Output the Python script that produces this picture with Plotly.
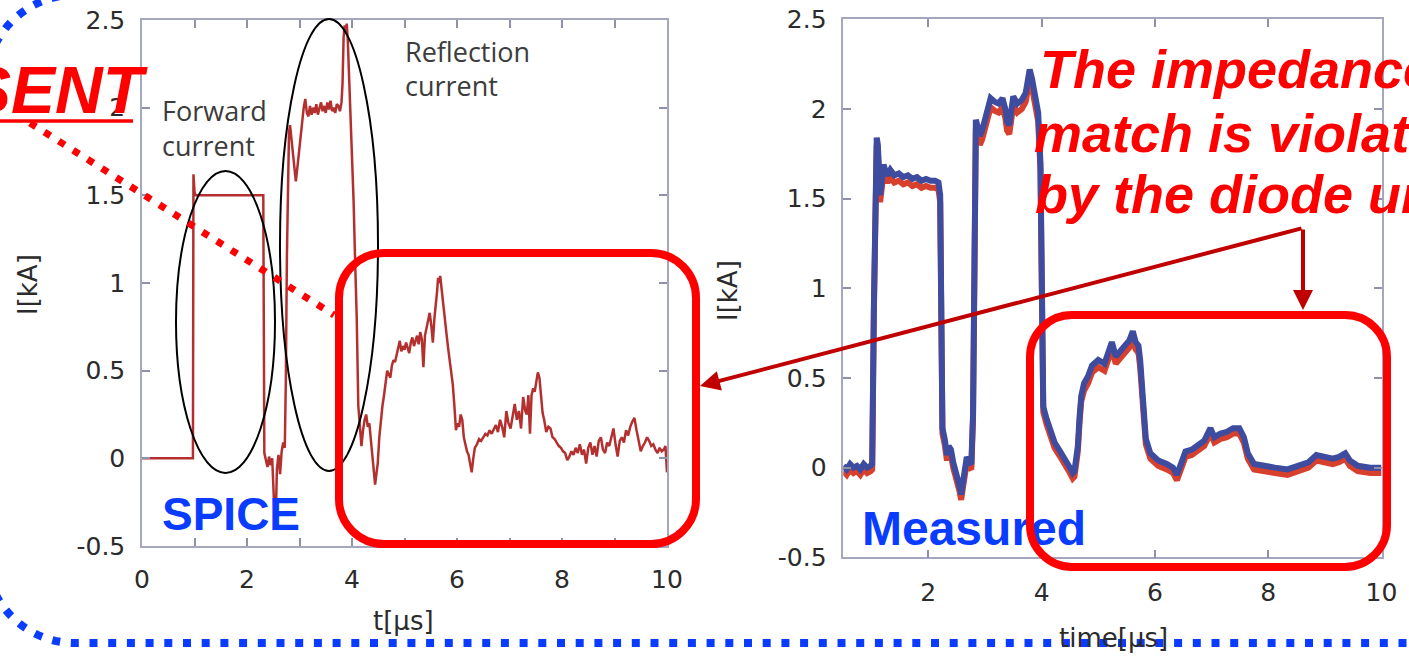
import plotly.graph_objects as go

W, H = 1409, 656

# ---- SPICE simulation (left panel): time [us], current [kA]
t_spice = [
    0.00, 0.97, 0.98, 1.00, 1.02, 1.40, 1.80, 2.20, 2.30, 2.31,
    2.33, 2.36, 2.39, 2.42, 2.45, 2.48, 2.51, 2.53, 2.55, 2.57,
    2.60, 2.63, 2.66, 2.69, 2.72, 2.74, 2.76, 2.78, 2.80, 2.82,
    2.84, 2.87, 2.90, 2.93, 2.96, 3.00, 3.04, 3.08, 3.11, 3.14,
    3.17, 3.20, 3.23, 3.26, 3.29, 3.32, 3.35, 3.38, 3.41, 3.44,
    3.47, 3.50, 3.53, 3.56, 3.59, 3.62, 3.65, 3.68, 3.71, 3.74,
    3.77, 3.80, 3.82, 3.84, 3.86, 3.88, 3.90, 3.92, 3.94, 3.97,
    4.00, 4.03, 4.06, 4.09, 4.12, 4.15, 4.18, 4.21, 4.24, 4.27,
    4.30, 4.33, 4.36, 4.39, 4.42, 4.44, 4.46, 4.49, 4.52, 4.55,
    4.58, 4.61, 4.64, 4.67, 4.70, 4.73, 4.76, 4.79, 4.82, 4.85,
    4.88, 4.91, 4.94, 4.97, 5.00, 5.03, 5.06, 5.09, 5.12, 5.15,
    5.18, 5.21, 5.24, 5.27, 5.30, 5.33, 5.36, 5.39, 5.42, 5.45,
    5.48, 5.51, 5.54, 5.57, 5.60, 5.62, 5.64, 5.66, 5.68, 5.70,
    5.72, 5.74, 5.77, 5.80, 5.83, 5.86, 5.89, 5.92, 5.95, 5.98,
    6.01, 6.04, 6.07, 6.10, 6.13, 6.16, 6.19, 6.22, 6.25, 6.28,
    6.31, 6.34, 6.38, 6.42, 6.46, 6.50, 6.54, 6.58, 6.62, 6.66,
    6.70, 6.74, 6.78, 6.82, 6.86, 6.90, 6.94, 6.98, 7.02, 7.06,
    7.10, 7.14, 7.18, 7.22, 7.26, 7.30, 7.33, 7.36, 7.39, 7.42,
    7.45, 7.48, 7.51, 7.54, 7.57, 7.60, 7.63, 7.66, 7.70, 7.74,
    7.78, 7.82, 7.86, 7.90, 7.94, 7.98, 8.02, 8.06, 8.10, 8.14,
    8.18, 8.22, 8.26, 8.30, 8.34, 8.38, 8.42, 8.46, 8.50, 8.54,
    8.58, 8.62, 8.66, 8.70, 8.74, 8.78, 8.82, 8.86, 8.90, 8.94,
    8.98, 9.02, 9.06, 9.10, 9.14, 9.18, 9.22, 9.26, 9.30, 9.34,
    9.38, 9.42, 9.46, 9.50, 9.54, 9.58, 9.62, 9.66, 9.70, 9.74,
    9.78, 9.82, 9.86, 9.90, 9.94, 9.97, 10.00,
]
i_spice = [
    0.00, 0.00, 1.62, 1.52, 1.50, 1.50, 1.50, 1.50, 1.50, 1.50,
    0.03, -0.02, -0.05, 0.01, -0.04, 0.00, -0.28, -0.36, -0.31, -0.06,
    0.02, -0.09, 0.04, 0.09, 0.06, 0.45, 1.15, 1.62, 1.86, 1.90,
    1.84, 1.74, 1.64, 1.58, 1.66, 1.78, 1.91, 2.00, 2.05, 1.97,
    1.95, 2.01, 1.96, 2.00, 1.97, 2.02, 1.96, 1.99, 2.03, 1.98,
    2.01, 1.97, 2.03, 1.99, 2.04, 1.98, 2.00, 1.97, 2.02, 2.01,
    1.98, 2.03, 2.14, 2.40, 2.47, 2.42, 2.48, 2.38, 2.22, 1.98,
    1.72, 1.47, 1.12, 0.80, 0.30, 0.20, 0.07, 0.16, 0.22, 0.25,
    0.18, 0.20, 0.10, 0.02, -0.08, -0.15, -0.10, -0.03, 0.12, 0.22,
    0.30, 0.36, 0.42, 0.50, 0.48, 0.46, 0.53, 0.56, 0.55, 0.59,
    0.64, 0.67, 0.61, 0.64, 0.62, 0.66, 0.63, 0.60, 0.66, 0.69,
    0.64, 0.67, 0.70, 0.65, 0.72, 0.68, 0.52, 0.70, 0.74, 0.78,
    0.83, 0.76, 0.66, 0.80, 0.88, 0.95, 1.03, 1.00, 1.04, 0.98,
    0.95, 0.85, 0.78, 0.71, 0.63, 0.55, 0.50, 0.42, 0.30, 0.16,
    0.20, 0.18, 0.25, 0.22, 0.12, 0.08, 0.04, 0.02, -0.03, -0.08,
    0.00, 0.06, 0.08, 0.11, 0.10, 0.12, 0.14, 0.13, 0.16, 0.14,
    0.17, 0.19, 0.15, 0.22, 0.18, 0.12, 0.27, 0.20, 0.17, 0.24,
    0.31, 0.22, 0.27, 0.17, 0.35, 0.27, 0.25, 0.36, 0.14, 0.36,
    0.40, 0.38, 0.44, 0.49, 0.46, 0.36, 0.26, 0.22, 0.15, 0.18,
    0.17, 0.12, 0.11, 0.09, 0.07, 0.06, 0.04, 0.03, -0.01, 0.01,
    0.04, 0.02, 0.06, 0.03, 0.08, 0.02, 0.05, -0.03, 0.06, 0.09,
    0.02, 0.07, 0.01, 0.10, 0.12, 0.05, 0.03, 0.09, 0.07, 0.12,
    0.17, 0.08, 0.01, 0.10, 0.12, 0.09, 0.16, 0.13, 0.18, 0.21,
    0.23, 0.16, 0.10, 0.04, 0.07, 0.09, 0.12, 0.10, 0.07, 0.08,
    0.05, 0.03, 0.06, 0.04, 0.05, 0.07, -0.08,
]

# ---- Measured waveforms (right panel)
t_meas = [
    0.50, 0.56, 0.62, 0.68, 0.74, 0.80, 0.86, 0.92, 0.98, 1.01,
    1.04, 1.07, 1.09, 1.11, 1.13, 1.15, 1.18, 1.21, 1.24, 1.28,
    1.33, 1.40, 1.48, 1.56, 1.64, 1.72, 1.80, 1.88, 1.96, 2.04,
    2.12, 2.18, 2.21, 2.23, 2.25, 2.29, 2.33, 2.36, 2.40, 2.44,
    2.48, 2.52, 2.55, 2.58, 2.61, 2.64, 2.68, 2.72, 2.76, 2.79,
    2.81, 2.84, 2.88, 2.91, 2.95, 2.99, 3.04, 3.10, 3.17, 3.24,
    3.31, 3.36, 3.39, 3.43, 3.47, 3.50, 3.57, 3.65, 3.72, 3.76,
    3.79, 3.83, 3.88, 3.94, 3.98, 4.01, 4.03, 4.09, 4.16, 4.23,
    4.31, 4.42, 4.50, 4.55, 4.58, 4.61, 4.64, 4.67, 4.70, 4.75,
    4.82, 4.89, 5.00, 5.11, 5.18, 5.24, 5.31, 5.40, 5.47, 5.55,
    5.61, 5.66, 5.71, 5.74, 5.77, 5.81, 5.84, 5.92, 6.06, 6.21,
    6.32, 6.39, 6.47, 6.54, 6.65, 6.76, 6.87, 6.98, 7.05, 7.16,
    7.27, 7.38, 7.49, 7.57, 7.64, 7.75, 7.90, 8.12, 8.34, 8.56,
    8.71, 8.85, 9.00, 9.14, 9.25, 9.36, 9.44, 9.58, 9.80, 10.00,
]
i_meas_blue = [
    0.01, -0.01, 0.02, 0.00, 0.01, -0.01, 0.02, 0.00, 0.01, 0.02,
    0.90, 1.70, 1.84, 1.80, 1.62, 1.52, 1.60, 1.69, 1.66, 1.63,
    1.66, 1.63, 1.64, 1.62, 1.63, 1.61, 1.62, 1.60, 1.61, 1.60,
    1.60, 1.59, 1.52, 0.90, 0.22, 0.16, 0.07, 0.12, 0.10, 0.03,
    -0.01, -0.06, -0.10, -0.15, -0.07, -0.02, 0.06, 0.03, 0.02, 0.30,
    1.50, 1.94, 1.89, 1.85, 1.88, 1.93, 2.00, 2.06, 2.04, 2.03,
    2.06, 2.00, 1.93, 1.91, 2.00, 2.07, 2.03, 2.05, 2.09, 2.16,
    2.22, 2.17, 2.06, 1.98, 1.70, 0.80, 0.34, 0.27, 0.20, 0.14,
    0.10, 0.05, 0.00, -0.03, -0.02, 0.05, 0.12, 0.28, 0.40, 0.47,
    0.51, 0.57, 0.60, 0.58, 0.64, 0.70, 0.62, 0.66, 0.68, 0.71,
    0.76, 0.70, 0.68, 0.60, 0.45, 0.25, 0.16, 0.08, 0.04, 0.02,
    0.00, -0.04, 0.04, 0.09, 0.10, 0.13, 0.15, 0.22, 0.17, 0.19,
    0.20, 0.22, 0.22, 0.17, 0.08, 0.02, 0.01, 0.00, -0.01, 0.01,
    0.03, 0.07, 0.06, 0.05, 0.06, 0.08, 0.04, 0.01, 0.00, 0.00,
]
i_meas_red = [
    -0.02, -0.04, -0.01, -0.03, -0.02, -0.04, -0.01, -0.03, -0.02, -0.01,
    0.87, 1.66, 1.80, 1.76, 1.58, 1.48, 1.56, 1.65, 1.62, 1.59,
    1.62, 1.59, 1.60, 1.58, 1.59, 1.57, 1.58, 1.56, 1.57, 1.56,
    1.56, 1.55, 1.48, 0.87, 0.19, 0.13, 0.04, 0.09, 0.07, 0.00,
    -0.04, -0.09, -0.13, -0.18, -0.10, -0.05, 0.03, 0.00, -0.01, 0.27,
    1.46, 1.89, 1.84, 1.80, 1.83, 1.88, 1.95, 2.01, 1.99, 1.98,
    2.01, 1.95, 1.88, 1.86, 1.95, 2.02, 1.98, 2.00, 2.04, 2.11,
    2.17, 2.12, 2.01, 1.93, 1.66, 0.77, 0.31, 0.24, 0.17, 0.11,
    0.07, 0.02, -0.03, -0.06, -0.05, 0.02, 0.09, 0.25, 0.37, 0.43,
    0.47, 0.53, 0.56, 0.54, 0.60, 0.66, 0.58, 0.62, 0.64, 0.67,
    0.72, 0.66, 0.64, 0.56, 0.42, 0.22, 0.13, 0.05, 0.01, -0.01,
    -0.03, -0.07, 0.01, 0.06, 0.07, 0.10, 0.12, 0.19, 0.14, 0.16,
    0.17, 0.19, 0.19, 0.14, 0.05, -0.01, -0.02, -0.03, -0.04, -0.02,
    0.00, 0.04, 0.03, 0.02, 0.03, 0.05, 0.01, -0.02, -0.03, -0.03,
]

y_ticks = [-0.5, 0, 0.5, 1, 1.5, 2, 2.5]
y_tick_text = ["-0.5", "0", "0.5", "1", "1.5", "2", "2.5"]
x_ticks_left = [0, 2, 4, 6, 8, 10]
x_ticks_right = [2, 4, 6, 8, 10]


def fx(x):
    """pixel column -> paper fraction"""
    return x / W


def fy(y):
    """pixel row -> paper fraction"""
    return 1 - y / H


FRAME = "#a4a7bd"
TICK = "#8e92a8"
TXT = "#2b2b2b"
RED = "#ff0000"
DARKRED = "#c00000"
BLUE = "#0a3cff"
TICK_FONT = dict(family="DejaVu Sans", size=25, color=TXT)

fig = go.Figure()
fig.add_trace(go.Scatter(x=t_spice, y=i_spice, mode="lines",
                         line=dict(color="#b3302f", width=2.5),
                         xaxis="x", yaxis="y", showlegend=False))
fig.add_trace(go.Scatter(x=t_meas, y=i_meas_red, mode="lines",
                         line=dict(color="#d8402e", width=6),
                         xaxis="x2", yaxis="y2", showlegend=False))
fig.add_trace(go.Scatter(x=t_meas, y=i_meas_blue, mode="lines",
                         line=dict(color="#3d4c9e", width=6),
                         xaxis="x2", yaxis="y2", showlegend=False))

# "Measured" label as a text trace so the highlight box sits above it
fig.add_trace(go.Scatter(x=[0.5 + (862 - 843.3) / 56.67], y=[2.5 - (533 - 19.3) / 179.3],
                         mode="text", text=["Measured"], textposition="middle right",
                         textfont=dict(family="Liberation Sans", size=48, color=BLUE, weight="bold"),
                         xaxis="x2", yaxis="y2", showlegend=False, cliponaxis=False))

axis_common = dict(showline=True, linecolor=FRAME, linewidth=1.5, mirror="ticks",
                   ticks="inside", ticklen=8, tickwidth=1.5, tickcolor=TICK,
                   showgrid=False, zeroline=False, tickfont=TICK_FONT, fixedrange=True,
                   automargin=False)

fig.update_layout(
    width=W, height=H, autosize=False,
    margin=dict(l=0, r=0, t=0, b=0, autoexpand=False),
    paper_bgcolor="white", plot_bgcolor="white", showlegend=False,
    xaxis=dict(domain=[fx(142), fx(667)], range=[0, 10], tickvals=x_ticks_left,
               ticktext=[str(v) for v in x_ticks_left], anchor="y",
               minor=dict(dtick=1, tick0=0, ticks="inside", ticklen=8, tickwidth=1.5, tickcolor=TICK),
               ticklabelstandoff=10, **axis_common),
    yaxis=dict(domain=[fy(546), fy(20)], range=[-0.5, 2.5], tickvals=y_ticks,
               ticktext=y_tick_text, anchor="x", ticklabelstandoff=10, **axis_common),
    xaxis2=dict(domain=[fx(843.3), fx(1381.5)], range=[0.5, 10], tickvals=x_ticks_right,
                ticktext=[str(v) for v in x_ticks_right], anchor="y2",
                ticklabelstandoff=12, **axis_common),
    yaxis2=dict(domain=[fy(557.3), fy(19.3)], range=[-0.5, 2.5], tickvals=y_ticks,
                ticktext=y_tick_text, anchor="x2", ticklabelstandoff=10, **axis_common),
)


def path_rounded(x0, y0, x1, y1, r):
    k = 0.5523 * r
    pts = [
        f"M {fx(x0 + r)},{fy(y0)}",
        f"L {fx(x1 - r)},{fy(y0)}",
        f"C {fx(x1 - r + k)},{fy(y0)} {fx(x1)},{fy(y0 + r - k)} {fx(x1)},{fy(y0 + r)}",
        f"L {fx(x1)},{fy(y1 - r)}",
        f"C {fx(x1)},{fy(y1 - r + k)} {fx(x1 - r + k)},{fy(y1)} {fx(x1 - r)},{fy(y1)}",
        f"L {fx(x0 + r)},{fy(y1)}",
        f"C {fx(x0 + r - k)},{fy(y1)} {fx(x0)},{fy(y1 - r + k)} {fx(x0)},{fy(y1 - r)}",
        f"L {fx(x0)},{fy(y0 + r)}",
        f"C {fx(x0)},{fy(y0 + r - k)} {fx(x0 + r - k)},{fy(y0)} {fx(x0 + r)},{fy(y0)}",
        "Z",
    ]
    return " ".join(pts)


# outer dotted frame of the slide panel (left side rounded)
R = 89
k = 0.5523 * R
frame_path = " ".join([
    f"M {fx(1500)},{fy(643)}",
    f"L {fx(-14 + R)},{fy(643)}",
    f"C {fx(-14 + R - k)},{fy(643)} {fx(-14)},{fy(643 - R + k)} {fx(-14)},{fy(643 - R)}",
    f"L {fx(-14)},{fy(-5 + R)}",
    f"C {fx(-14)},{fy(-5 + R - k)} {fx(-14 + R - k)},{fy(-5)} {fx(-14 + R)},{fy(-5)}",
    f"L {fx(1500)},{fy(-5)}",
])

shapes = [
    dict(type="path", path=frame_path, xref="paper", yref="paper",
         line=dict(color=BLUE, width=8, dash="8px,10.7px"), layer="above"),
    dict(type="circle", xref="paper", yref="paper", x0=fx(176), x1=fx(275), y0=fy(473), y1=fy(171),
         line=dict(color="black", width=2), layer="above"),
    dict(type="circle", xref="paper", yref="paper", x0=fx(280), x1=fx(378), y0=fy(471), y1=fy(19),
         line=dict(color="black", width=2), layer="above"),
    dict(type="line", xref="paper", yref="paper", x0=fx(30), y0=fy(123), x1=fx(334), y1=fy(315),
         line=dict(color=RED, width=7, dash="7px,10px"), layer="above"),
    dict(type="line", xref="paper", yref="paper", x0=fx(0), y0=fy(121), x1=fx(133), y1=fy(121),
         line=dict(color=RED, width=3.5), layer="above"),
    dict(type="path", path=path_rounded(339, 253, 696, 544, 45), xref="paper", yref="paper",
         line=dict(color=RED, width=8), layer="above"),
    dict(type="path", path=path_rounded(1030, 315, 1387, 567, 42), xref="paper", yref="paper",
         line=dict(color=RED, width=8), layer="above"),
]
fig.update_layout(shapes=shapes)


def note(text, x, y, size, color, family, xanchor="left", yanchor="middle", angle=0, **kw):
    return dict(text=text, x=fx(x), y=fy(y), xref="paper", yref="paper",
                xanchor=xanchor, yanchor=yanchor, showarrow=False, textangle=angle,
                font=dict(size=size, color=color, family=family, **kw))


LABEL_FONT = "Open Sans"
BOLD_IT = dict(weight="bold", style="italic")
annotations = [
    note("I[kA]", 28, 285, 26, TXT, "DejaVu Sans", xanchor="center", angle=-90),
    note("I[kA]", 728, 291, 26, TXT, "DejaVu Sans", xanchor="center", angle=-90),
    note("t[μs]", 403, 621, 26, TXT, "DejaVu Sans", xanchor="center"),
    note("time[μs]", 1113, 638, 26, TXT, "DejaVu Sans", xanchor="center"),
    note("Forward", 160, 111, 27, "#3c3c3c", LABEL_FONT),
    note("current", 160, 145, 27, "#3c3c3c", LABEL_FONT),
    note("Reflection", 403, 51, 27, "#3c3c3c", LABEL_FONT),
    note("current", 403, 85, 27, "#3c3c3c", LABEL_FONT),
    note("SPICE", 160, 514, 46, BLUE, "Liberation Sans", weight="bold"),
    note("SENT", 150, 90, 66, RED, "Liberation Sans", xanchor="right", **BOLD_IT),
    note("The impedance", 1038, 69, 54, RED, "Liberation Sans", **BOLD_IT),
    note("match is violated", 1032, 133, 54, RED, "Liberation Sans", **BOLD_IT),
    note("by the diode unit", 1033, 194, 54, RED, "Liberation Sans", **BOLD_IT),
    # arrows from the explanatory text to both highlighted regions
    dict(text="", x=fx(700), y=fy(386), ax=603, ay=-158, xref="paper", yref="paper",
         axref="pixel", ayref="pixel", showarrow=True, arrowhead=2, arrowsize=1,
         arrowwidth=4, arrowcolor=DARKRED),
    dict(text="", x=fx(1303), y=fy(310), ax=0, ay=-82, xref="paper", yref="paper",
         axref="pixel", ayref="pixel", showarrow=True, arrowhead=2, arrowsize=1,
         arrowwidth=4, arrowcolor=DARKRED),
]
fig.update_layout(annotations=annotations)

fig.write_html("out.html")
